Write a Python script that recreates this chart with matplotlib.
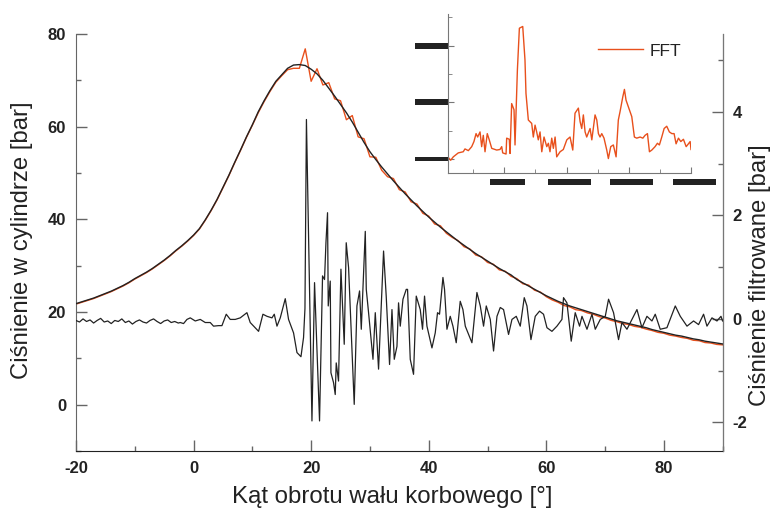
import numpy as np
import matplotlib
matplotlib.use("Agg")
from matplotlib import pyplot as plt
from matplotlib.patches import Rectangle
import matplotlib.transforms as mtransforms
from matplotlib.ticker import MultipleLocator

# crank angle [deg] for the pressure traces
angle = np.arange(-20, 91, 1)
# measured cylinder pressure [bar]
p_cyl = [21.8, 22.2, 22.6, 23.0, 23.5, 24.0, 24.5, 25.1, 25.7, 26.4,
         27.2, 27.9, 28.6, 29.4, 30.3, 31.2, 32.2, 33.3, 34.3, 35.4,
         36.6, 38.0, 39.9, 42.0, 44.3, 46.9, 49.5, 52.3, 55.0, 57.8,
         60.4, 63.2, 65.6, 67.8, 69.8, 71.2, 72.6, 73.3, 73.4, 73.2,
         72.4, 71.4, 70.0, 68.3, 66.6, 64.8, 63.0, 61.0, 58.8, 56.6,
         54.6, 52.9, 51.3, 49.8, 48.3, 46.9, 45.5, 44.2, 42.9, 41.7,
         40.5, 39.4, 38.3, 37.3, 36.3, 35.3, 34.4, 33.5, 32.6, 31.8,
         31.0, 30.2, 29.4, 28.7, 28.0, 27.0, 26.3, 25.6, 24.9, 24.2,
         23.5, 22.9, 22.3, 21.8, 21.3, 20.9, 20.5, 20.1, 19.7, 19.3,
         18.9, 18.5, 18.1, 17.8, 17.5, 17.2, 16.9, 16.6, 16.2, 15.9,
         15.6, 15.3, 15.0, 14.8, 14.5, 14.2, 14.0, 13.7, 13.5, 13.3, 13.1]
# pressure rebuilt from the FFT [bar]
p_fft = [21.7, 22.1, 22.5, 22.9, 23.4, 23.9, 24.4, 25.0, 25.6, 26.3,
         27.1, 27.8, 28.5, 29.3, 30.2, 31.1, 32.1, 33.2, 34.2, 35.3,
         36.5, 37.9, 39.8, 41.9, 44.2, 46.8, 49.4, 52.2, 54.9, 57.7,
         60.3, 63.0, 65.4, 67.6, 69.6, 71.0, 72.3, 72.6, 72.6, 76.8,
         69.8, 72.5, 69.0, 69.5, 66.0, 65.6, 61.5, 62.4, 57.8, 57.4,
         53.5, 53.4, 50.6, 49.2, 48.8, 46.4, 45.9, 43.8, 43.3, 41.3,
         40.7, 39.0, 38.6, 37.0, 36.1, 35.4, 34.1, 33.6, 32.3, 31.9,
         30.7, 30.3, 29.1, 28.8, 27.7, 27.2, 26.1, 25.8, 24.7, 24.3,
         23.3, 22.6, 22.1, 21.4, 21.1, 20.5, 20.3, 19.8, 19.5, 19.0,
         18.7, 18.2, 17.9, 17.5, 17.3, 16.9, 16.7, 16.3, 16.0, 15.6,
         15.4, 15.0, 14.8, 14.5, 14.3, 13.9, 13.8, 13.4, 13.3, 13.0, 12.9]

# filtered pressure (right axis)
filt_angle = [-20.0, -19.4, -18.8, -18.2, -17.6, -17.0, -16.4, -15.8, -15.2, -14.6,
              -14.0, -13.4, -12.8, -12.2, -11.6, -11.0, -10.4, -9.8, -9.2, -8.6,
              -8.0, -7.4, -6.8, -6.2, -5.6, -5.0, -4.4, -3.8, -3.2, -2.6,
              -2.26, -1.70, -1.12, -0.56, 0.29, 1.14, 1.99, 2.84, 3.40, 4.25,
              4.83, 5.56, 6.24, 7.09, 7.94, 9.08, 9.64, 10.49, 11.06, 11.80,
              12.49, 13.34, 13.73, 14.19, 14.75, 15.60, 16.16, 17.01, 17.59, 18.27,
              18.71, 18.95, 19.20, 20.14, 20.58, 21.43, 21.94, 22.28, 22.52, 22.79,
              22.91, 23.25, 23.37, 23.81, 24.10, 24.27, 24.66, 25.07, 25.63, 25.97,
              26.37, 27.33, 27.79, 28.24, 28.53, 29.21, 29.38, 29.77, 30.52, 30.91,
              31.47, 32.32, 32.77, 33.34, 33.75, 34.14, 34.60, 34.87, 35.16, 35.62,
              36.18, 36.40, 36.86, 37.42, 37.88, 38.56, 38.95, 39.29, 39.70, 40.55,
              41.11, 41.50, 41.84, 42.42, 42.69, 43.10, 43.66, 44.12, 44.68, 45.36,
              45.82, 46.22, 47.35, 48.20, 48.77, 49.33, 49.79, 50.47, 51.03, 51.61,
              52.17, 52.73, 53.58, 54.16, 54.89, 55.57, 56.25, 56.71, 57.39, 58.12,
              58.85, 59.53, 60.11, 60.96, 61.81, 62.66, 62.93, 63.51, 64.24, 64.92,
              65.66, 66.07, 66.92, 67.77, 68.33, 69.18, 70.03, 70.59, 71.44, 72.29,
              72.87, 73.72, 74.57, 75.42, 76.27, 77.12, 77.97, 78.53, 79.38, 80.52,
              81.94, 82.79, 83.93, 85.05, 85.90, 86.75, 87.33, 88.18, 89.03, 89.71, 89.98]
p_filt = [-0.03, -0.06, 0.00, -0.05, -0.02, -0.08, -0.03, 0.01, -0.06, -0.04,
          -0.09, -0.03, -0.05, 0.00, -0.07, -0.04, -0.10, -0.05, -0.02, -0.06,
          -0.08, -0.03, 0.00, -0.05, -0.09, -0.04, -0.02, -0.07, -0.05, -0.08,
          -0.07, -0.09, -0.01, 0.02, -0.04, -0.01, -0.07, -0.07, -0.14, -0.13,
          -0.13, 0.09, -0.01, -0.01, 0.02, 0.12, -0.07, -0.17, -0.24, 0.09,
          0.05, 0.02, 0.09, -0.14, 0.02, 0.39, -0.01, -0.27, -0.65, -0.73,
          -0.36, 0.20, 3.85, -1.97, 0.70, -1.97, 0.83, 0.76, 1.47, 2.05,
          0.25, 0.73, -1.04, -1.23, -1.46, -0.85, -1.20, 0.96, -0.49, 1.47,
          0.99, -1.65, 0.25, 0.54, -0.20, 1.69, 0.57, 0.12, -0.78, 0.12,
          -0.97, 1.31, 0.44, -0.88, 0.18, -0.78, -0.53, 0.31, -0.14, 0.38,
          0.57, 0.57, -0.78, -1.07, 0.44, 0.18, -0.20, 0.44, -0.14, -0.56,
          -0.27, 0.12, 0.09, 0.80, 0.57, -0.20, 0.05, -0.14, -0.46, 0.34,
          0.18, -0.14, -0.46, 0.51, 0.25, -0.14, 0.25, -0.01, -0.62, 0.05,
          0.22, 0.18, -0.30, -0.01, 0.05, -0.14, 0.41, 0.25, -0.40, 0.05,
          0.15, 0.09, -0.17, -0.24, -0.14, -0.01, 0.41, 0.31, -0.43, 0.12,
          -0.14, 0.05, -0.20, 0.09, -0.20, -0.01, 0.05, 0.38, 0.12, -0.40,
          -0.07, -0.20, -0.01, 0.18, -0.17, 0.05, -0.04, 0.09, -0.20, -0.17,
          0.25, 0.05, -0.14, -0.04, -0.11, 0.09, -0.14, 0.02, -0.04, 0.05, -0.04]

# FFT spectrum shown in the inset
fft_freq = [0.50, 0.69, 0.90, 1.30, 1.70, 1.84, 2.11, 2.38, 2.56, 2.73,
            2.86, 3.05, 3.18, 3.31, 3.45, 3.63, 3.79, 3.99, 4.39, 4.65,
            4.79, 4.87, 5.14, 5.19, 5.40, 5.46, 5.59, 5.78, 5.86, 6.05,
            6.21, 6.48, 6.66, 6.74, 6.93, 7.20, 7.33, 7.47, 7.60, 7.73,
            7.87, 8.01, 8.19, 8.41, 8.54, 8.67, 8.81, 8.94, 9.08, 9.21,
            9.48, 9.74, 10.02, 10.28, 10.50, 10.68, 10.95, 11.09, 11.22, 11.35,
            11.49, 11.62, 11.89, 12.03, 12.29, 12.43, 12.56, 12.69, 12.83, 13.01,
            13.23, 13.36, 13.55, 13.76, 13.98, 14.16, 14.30, 14.52, 14.65, 14.78,
            14.97, 15.24, 15.45, 15.64, 15.91, 16.13, 16.31, 16.50, 16.66, 16.85,
            17.11, 17.30, 17.46, 17.65, 17.84, 18.05, 18.26, 18.46, 18.64, 18.80,
            18.99, 19.18, 19.39, 19.61, 19.79, 19.93, 20.00]
fft_amp = [0.03, -0.02, 0.04, 0.11, 0.13, 0.18, 0.15, 0.22, 0.31, 0.45,
           0.39, 0.48, 0.22, 0.42, 0.13, 0.45, 0.34, 0.19, 0.16, 0.17,
           0.22, 0.11, 0.09, 0.37, 0.35, 0.10, 0.98, 0.87, 0.25, 1.57,
           2.31, 2.34, 1.75, 1.16, 0.69, 0.63, 0.39, 0.60, 0.48, 0.34,
           0.48, 0.13, 0.39, 0.22, 0.28, 0.13, 0.37, 0.19, 0.39, 0.04,
           0.13, 0.17, 0.34, 0.39, 0.16, 0.81, 0.90, 0.66, 0.54, 0.78,
           0.48, 0.39, 0.54, 0.34, 0.78, 0.69, 0.45, 0.39, 0.45, 0.37,
           0.16, 0.01, 0.22, 0.25, 0.04, 0.69, 0.84, 1.10, 1.23, 1.04,
           0.92, 0.75, 0.39, 0.37, 0.39, 0.37, 0.42, 0.45, 0.13, 0.16,
           0.22, 0.28, 0.25, 0.39, 0.54, 0.58, 0.48, 0.45, 0.45, 0.27,
           0.37, 0.31, 0.35, 0.22, 0.27, 0.31, 0.17]
inset_xticks = [5, 10, 15, 20]
inset_yticks = [0, 1, 2]

orange = "#E8501C"
dark = "#222222"
plt.rcParams["font.family"] = ["Liberation Sans", "DejaVu Sans"]
plt.rcParams["axes.unicode_minus"] = False

fig = plt.figure(figsize=(7.72, 5.17), dpi=100)
ax = fig.add_axes([0.0984, 0.1277, 0.8377, 0.8065])
ax2 = ax.twinx()

ax.plot(angle, p_cyl, color=dark, lw=1.0, zorder=3)
ax.plot(angle, p_fft, color=orange, lw=1.0, zorder=2)
ax2.plot(filt_angle, p_filt, color=dark, lw=0.9)

ax.set_xlim(-20, 90)
ax.set_ylim(-10, 80)
ax2.set_ylim(-2.55, 5.5)
ax.xaxis.set_major_locator(MultipleLocator(20))
ax.xaxis.set_minor_locator(MultipleLocator(10))
ax.yaxis.set_major_locator(MultipleLocator(20))
ax.yaxis.set_minor_locator(MultipleLocator(10))
ax2.yaxis.set_major_locator(MultipleLocator(2))
ax2.yaxis.set_minor_locator(MultipleLocator(1))

for a in (ax, ax2):
    a.spines["top"].set_visible(False)
    a.tick_params(which="both", direction="in", color="#666666", width=1.0,
                  labelsize=12, labelcolor=dark)
    a.tick_params(which="major", length=8, pad=7)
    a.tick_params(which="minor", length=3.5)
    for lab in a.get_xticklabels() + a.get_yticklabels():
        lab.set_fontweight("bold")
ax.spines["bottom"].set_color(dark)
ax.spines["left"].set_color("#666666")
ax2.spines["right"].set_color("#777777")
ax2.spines["left"].set_visible(False)
ax2.spines["bottom"].set_visible(False)

fig.text(0.508, 0.038, "Kąt obrotu wału korbowego [°]", ha="center", va="center",
         fontsize=17.3, color=dark)
fig.text(0.028, 0.535, "Ciśnienie w cylindrze [bar]", ha="center", va="center",
         rotation=90, fontsize=17.2, color=dark)
fig.text(0.984, 0.468, "Ciśnienie filtrowane [bar]", ha="center", va="center",
         rotation=90, fontsize=17.2, color=dark)

# inset with the spectrum
ins = fig.add_axes([0.5799, 0.6648, 0.3152, 0.3081])
ins.patch.set_alpha(0)
ins.plot(fft_freq, fft_amp, color=orange, lw=1.0, label="FFT")
ins.set_xlim(0.45, 20)
ins.set_ylim(-0.25, 2.56)
ins.set_xticks(inset_xticks)
ins.set_yticks(inset_yticks)
ins.xaxis.set_minor_locator(MultipleLocator(2.5))
ins.yaxis.set_minor_locator(MultipleLocator(0.5))
ins.set_xticklabels([])
ins.set_yticklabels([])
for s in ("top", "right"):
    ins.spines[s].set_visible(False)
for s in ("left", "bottom"):
    ins.spines[s].set_color("#777777")
ins.tick_params(which="both", direction="in", color="#777777")
ins.tick_params(which="major", length=4)
ins.tick_params(which="minor", length=3)

# hidden tick labels drawn as dark bars
ytr = mtransforms.blended_transform_factory(ins.transAxes, ins.transData)
for t, h in zip(inset_yticks, [0.03, 0.053, 0.053]):
    ins.add_patch(Rectangle((-0.134, t - h), 0.134, 2 * h, transform=ytr,
                            color=dark, clip_on=False, lw=0))
xtr = mtransforms.blended_transform_factory(ins.transData, ins.transAxes)
for t, w in zip(inset_xticks, [2.8, 3.46, 3.46, 3.46]):
    ins.add_patch(Rectangle((t + 0.25 - w / 2, -0.073), w, 0.036, transform=xtr,
                            color=dark, clip_on=False, lw=0))

ins.legend(loc="center left", bbox_to_anchor=(0.618, 0.768), frameon=False,
           handlelength=2.6, handletextpad=0.35, borderpad=0, borderaxespad=0,
           fontsize=12.5, labelcolor=dark)

fig.savefig("out.png", dpi=100)
